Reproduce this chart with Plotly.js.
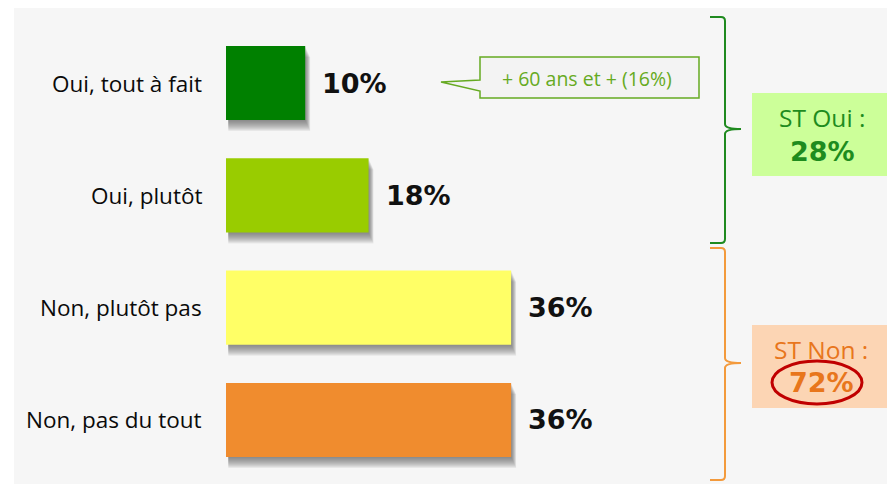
<!DOCTYPE html>
<html><head><meta charset="utf-8">
<script src="https://cdn.plot.ly/plotly-3.0.1.min.js"></script>
<style>html,body{margin:0;padding:0;background:#fff;}#chart{width:887px;height:484px;}</style>
</head><body><div id="chart"></div>
<script>
// Data
const categories = ["Oui, tout à fait", "Oui, plutôt", "Non, plutôt pas", "Non, pas du tout"];
const values = [10, 18, 36, 36];
const valueLabels = ["10%", "18%", "36%", "36%"];
const barColors = ["#008000", "#99cc00", "#ffff66", "#f08c2e"];
const calloutText = "+ 60 ans et + (16%)";
const stOuiLabel = "ST Oui :";
const stOuiValue = "28%";
const stNonLabel = "ST Non :";
const stNonValue = "72%";

// Layout geometry (pixels)
const W = 887, H = 484, L = 226, R = 0;
const PW = W - L - R;
const pxPerUnit = 7.92;
const xMax = PW / pxPerUnit;
const catSpacing = 112.33, firstCenter = 83;
const yTop = -firstCenter / catSpacing;
const yBot = (H - firstCenter) / catSpacing;
const bargap = 0.34;
const FONT = '"Open Sans", "DejaVu Sans", sans-serif';
const BFONT = '"DejaVu Sans", sans-serif';

function px(x){ return (x - L) / PW; }
function py(y){ return (H - y) / H; }

const shapes = [];
// gray panel
shapes.push({type:'rect', xref:'paper', yref:'paper', x0:px(14), x1:px(W+2), y0:py(H+2), y1:py(8),
  fillcolor:'#f6f6f6', line:{width:0}, layer:'below'});

// bar shadows
const half = (1 - bargap) / 2;
const dy = 1 / catSpacing, dx = 1 / pxPerUnit;
values.forEach((v, i) => {
  for (let k = 1; k <= 11; k++) {
    shapes.push({type:'rect', xref:'x', yref:'y',
      x0: 0.3, x1: v + (k*0.45) * dx,
      y0: i - half + k * dy, y1: i + half + k * dy,
      fillcolor:'rgba(90,90,90,0.09)', line:{width:0}, layer:'below'});
  }
});

// callout box with pointer
shapes.push({type:'path', xref:'paper', yref:'paper',
  path: `M ${px(480)} ${py(57)} L ${px(699)} ${py(57)} L ${px(699)} ${py(98)} L ${px(480)} ${py(98)} L ${px(480)} ${py(91)} L ${px(441)} ${py(82)} L ${px(480)} ${py(80)} Z`,
  fillcolor:'#f3f3f3', line:{color:'#66aa22', width:1.5}});

// braces
function brace(top, mid, bot, color){
  const xl = 710, xv = 725, xt = 741, r = 4;
  return {type:'path', xref:'paper', yref:'paper', line:{color:color, width:2},
    path: `M ${px(xl)} ${py(top)} L ${px(xv-r)} ${py(top)} Q ${px(xv)} ${py(top)} ${px(xv)} ${py(top+r)} ` +
          `L ${px(xv)} ${py(mid-5)} Q ${px(xv)} ${py(mid)} ${px(xt)} ${py(mid)} Q ${px(xv)} ${py(mid)} ${px(xv)} ${py(mid+5)} ` +
          `L ${px(xv)} ${py(bot-r)} Q ${px(xv)} ${py(bot)} ${px(xv-r)} ${py(bot)} L ${px(xl)} ${py(bot)}`};
}
shapes.push(brace(17, 129, 243, '#1f8a1f'));
shapes.push(brace(248, 363, 480, '#f39a3c'));

// ST boxes
shapes.push({type:'rect', xref:'paper', yref:'paper', x0:px(752), x1:px(W+2), y0:py(176), y1:py(93),
  fillcolor:'#ccff99', line:{width:0}});
shapes.push({type:'rect', xref:'paper', yref:'paper', x0:px(752), x1:px(W+2), y0:py(408), y1:py(325),
  fillcolor:'#fcd5b4', line:{width:0}});
// red ellipse
shapes.push({type:'circle', xref:'paper', yref:'paper', x0:px(772), x1:px(862), y0:py(404), y1:py(361),
  line:{color:'#c00000', width:3}});

// category labels
const annotations = categories.map((c, i) => ({
  x: 0, y: i, xref:'paper', yref:'y', text: c, showarrow:false,
  xanchor:'right', yanchor:'middle', xshift: -22,
  font:{family:FONT, size:22.5, color:'#0a0a0a'}
}));
// value labels
values.forEach((v, i) => annotations.push({
  x: v, y: i, xref:'x', yref:'y', text: valueLabels[i], showarrow:false,
  xanchor:'left', yanchor:'middle', xshift: 15,
  font:{family:BFONT, size:27, color:'#111', weight:'bold'}
}));
annotations.push({xref:'paper', yref:'paper', x:px(587), y:py(78), text:calloutText, showarrow:false,
  xanchor:'center', yanchor:'middle', font:{family:FONT, size:19.5, color:'#66aa22'}});
annotations.push({xref:'paper', yref:'paper', x:px(822), y:py(118), text:stOuiLabel, showarrow:false,
  xanchor:'center', yanchor:'middle', font:{family:FONT, size:24.5, color:'#1e8c1e'}});
annotations.push({xref:'paper', yref:'paper', x:px(822), y:py(151), text:stOuiValue, showarrow:false,
  xanchor:'center', yanchor:'middle', font:{family:BFONT, size:27, color:'#1e8c1e', weight:'bold'}});
annotations.push({xref:'paper', yref:'paper', x:px(821), y:py(350), text:stNonLabel, showarrow:false,
  xanchor:'center', yanchor:'middle', font:{family:FONT, size:24.5, color:'#e8761c'}});
annotations.push({xref:'paper', yref:'paper', x:px(821), y:py(382), text:stNonValue, showarrow:false,
  xanchor:'center', yanchor:'middle', font:{family:BFONT, size:27, color:'#e8761c', weight:'bold'}});

const trace = {
  type:'bar', orientation:'h', x: values, y: categories,
  marker:{color: barColors, line:{width:0}}, hoverinfo:'none'
};

const layout = {
  width: W, height: H, margin:{l:L, r:R, t:0, b:0},
  paper_bgcolor:'#ffffff', plot_bgcolor:'rgba(0,0,0,0)',
  bargap: bargap, showlegend:false,
  xaxis:{range:[0, xMax], showgrid:false, zeroline:false, showticklabels:false, showline:false, fixedrange:true},
  yaxis:{type:'category', range:[yBot, yTop], showgrid:false, zeroline:false, showline:false, ticks:'',
    showticklabels:false},
  shapes: shapes, annotations: annotations
};

Plotly.newPlot('chart', [trace], layout, {displayModeBar:false, staticPlot:true});
</script></body></html>
